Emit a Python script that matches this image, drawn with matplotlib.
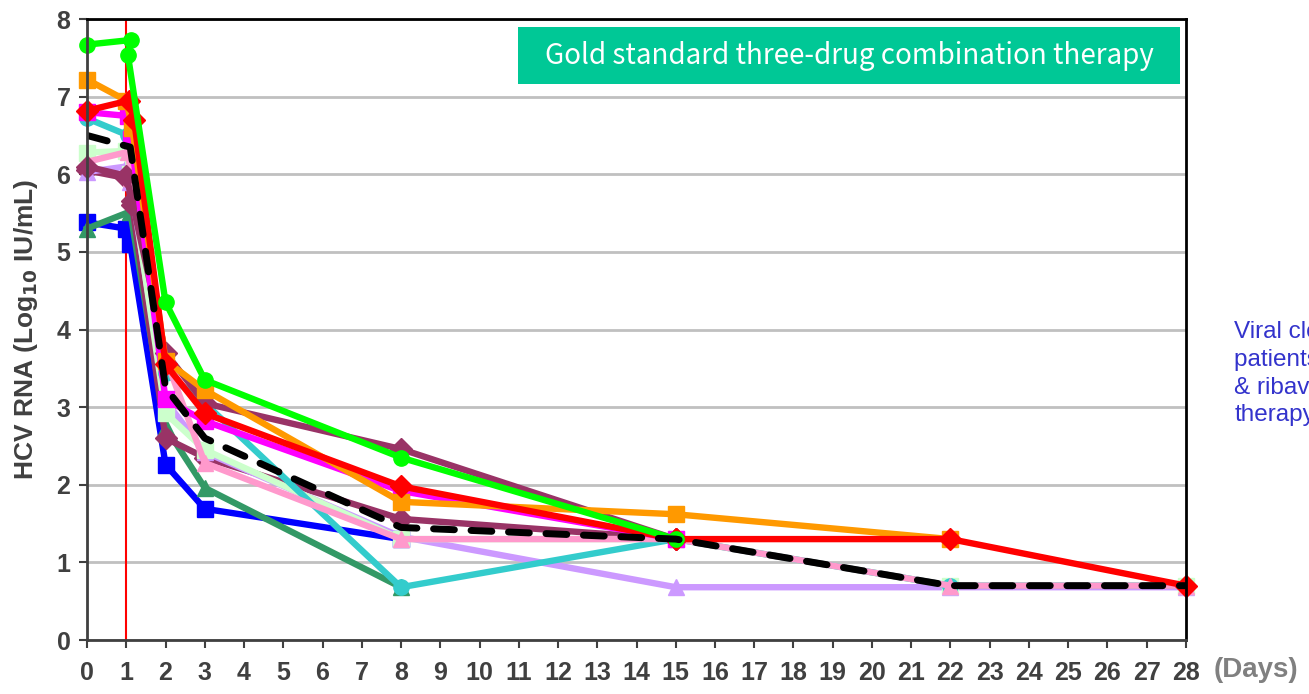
import matplotlib
matplotlib.use("Agg")
import matplotlib.pyplot as plt
from matplotlib import font_manager
from matplotlib.patches import Rectangle

# pick a narrow bold face for the tick labels if there is one
names = {f.name for f in font_manager.fontManager.ttflist}
if "Liberation Sans Narrow" in names:
    tick_font, tick_size = "Liberation Sans Narrow", 20
else:
    tick_font, tick_size = "Liberation Sans", 18

days_ticks = list(range(0, 29))
y_ticks = list(range(0, 9))

# each patient: (days, log10 IU/mL)
blue_days = [0, 1.0, 1.1, 2, 3, 8]
blue_vals = [5.38, 5.3, 5.1, 2.26, 1.69, 1.3]

seagreen_days = [0, 1.1, 2, 3, 8]
seagreen_vals = [5.3, 5.52, 2.74, 1.96, 0.68]

plum_b_days = [0, 1.0, 1.15, 2, 3, 8, 15]
plum_b_vals = [6.05, 5.95, 5.6, 2.6, 2.35, 1.56, 1.3]

lavender_days = [0, 1.0, 1.1, 2, 3, 8, 15, 22, 28]
lavender_vals = [6.03, 6.1, 5.9, 3.08, 2.42, 1.33, 0.68, 0.68, 0.68]

mint_days = [0, 1.0, 1.1, 2, 3, 8, 15, 22, 28]
mint_vals = [6.28, 6.3, 6.0, 2.92, 2.45, 1.3, 1.3, 0.7, 0.7]

cyan_days = [0, 1.05, 1.12, 2, 3, 8, 15, 22, 28]
cyan_vals = [6.72, 6.5, 6.38, 3.44, 3.05, 0.68, 1.3, 0.7, 0.7]

pink_days = [0, 1.05, 1.12, 2, 3, 8, 15, 22, 28]
pink_vals = [6.16, 6.29, 5.95, 3.63, 2.28, 1.3, 1.3, 0.7, 0.7]

plum_a_days = [0, 1.0, 1.15, 2, 3, 8, 15]
plum_a_vals = [6.1, 5.98, 5.65, 3.7, 3.05, 2.46, 1.3]

magenta_days = [0, 1.05, 1.12, 2, 3, 8, 15]
magenta_vals = [6.8, 6.75, 6.45, 3.1, 2.82, 1.92, 1.3]

orange_days = [0, 1.0, 1.15, 2, 3, 8, 15, 22]
orange_vals = [7.22, 6.95, 6.6, 3.6, 3.22, 1.78, 1.62, 1.3]

red_days = [0, 1.07, 1.2, 2, 3, 8, 15, 22, 28]
red_vals = [6.82, 6.95, 6.7, 3.55, 2.92, 1.98, 1.3, 1.3, 0.7]

green_days = [0, 1.12, 1.04, 2, 3, 8, 15]
green_vals = [7.67, 7.73, 7.54, 4.35, 3.35, 2.35, 1.3]

mean_days = [0, 1.1, 2, 3, 8, 15, 22, 28]
mean_vals = [6.5, 6.35, 3.25, 2.6, 1.45, 1.3, 0.7, 0.7]

series = [
    (blue_days, blue_vals, "#0000FF", "s"),
    (seagreen_days, seagreen_vals, "#339966", "^"),
    (plum_b_days, plum_b_vals, "#993366", "D"),
    (lavender_days, lavender_vals, "#CC99FF", "^"),
    (mint_days, mint_vals, "#CCFFCC", "s"),
    (cyan_days, cyan_vals, "#33CCCC", "o"),
    (pink_days, pink_vals, "#FF99CC", "^"),
    (plum_a_days, plum_a_vals, "#993366", "D"),
    (magenta_days, magenta_vals, "#FF00FF", "s"),
    (orange_days, orange_vals, "#FF9900", "s"),
    (red_days, red_vals, "#FF0000", "D"),
    (green_days, green_vals, "#00FF00", "o"),
]

fig = plt.figure(figsize=(13.09, 6.94), dpi=100)
ax = fig.add_axes([0.0665, 0.0778, 0.8395, 0.8948])

for d, v, c, m in series:
    ax.plot(d, v, color=c, lw=4.6, marker=m, ms=11, mec=c, mfc=c,
            solid_joinstyle="round", clip_on=False)

ax.plot(mean_days, mean_vals, color="black", lw=5, ls=(0, (3.0, 2.4)),
        dash_capstyle="round")

ax.axvline(1, color="#FF0000", lw=1.5, zorder=1)

ax.set_xlim(0, 28)
ax.set_ylim(0, 8)
ax.set_xticks(days_ticks)
ax.set_yticks(y_ticks)
ax.yaxis.grid(True, color="#C0C0C0", lw=2)
ax.set_axisbelow(True)

for s in ["left", "bottom"]:
    ax.spines[s].set_color("#404040")
    ax.spines[s].set_linewidth(2)
for s in ["top", "right"]:
    ax.spines[s].set_color("black")
    ax.spines[s].set_linewidth(2)

ax.tick_params(axis="both", direction="out", length=6, width=1.5, color="#404040",
               labelcolor="#404040")
ax.tick_params(axis="x", pad=9)
ax.tick_params(axis="y", pad=6)
for lab in ax.get_xticklabels() + ax.get_yticklabels():
    lab.set_fontfamily(tick_font)
    lab.set_fontweight("bold")
    lab.set_fontsize(tick_size)

ax.set_ylabel(r"HCV RNA (Log$_{\mathbf{10}}$ IU/mL)", fontsize=19, fontweight="bold",
              color="#404040", family="Liberation Sans", labelpad=12)

fig.text(0.927, 0.024, "(Days)", fontsize=20, fontweight="bold", color="#808080",
         family="Liberation Sans", ha="left", va="baseline")

ax.add_patch(Rectangle((0.392, 0.895), 0.603, 0.092, transform=ax.transAxes,
                       facecolor="#00C896", edgecolor="none", zorder=5))
ax.text(0.6935, 0.941, "Gold standard three-drug combination therapy",
        transform=ax.transAxes, ha="center", va="center", color="white",
        fontsize=20, family="Noto Sans CJK JP", zorder=6)

fig.text(0.943, 0.538, "Viral clearance in\npatients on peginterferon\n& ribavirin\ntherapy",
         fontsize=17.5, color="#3333CC", family="Liberation Sans", ha="left", va="top",
         linespacing=1.35)

fig.savefig("out.png", dpi=100)
